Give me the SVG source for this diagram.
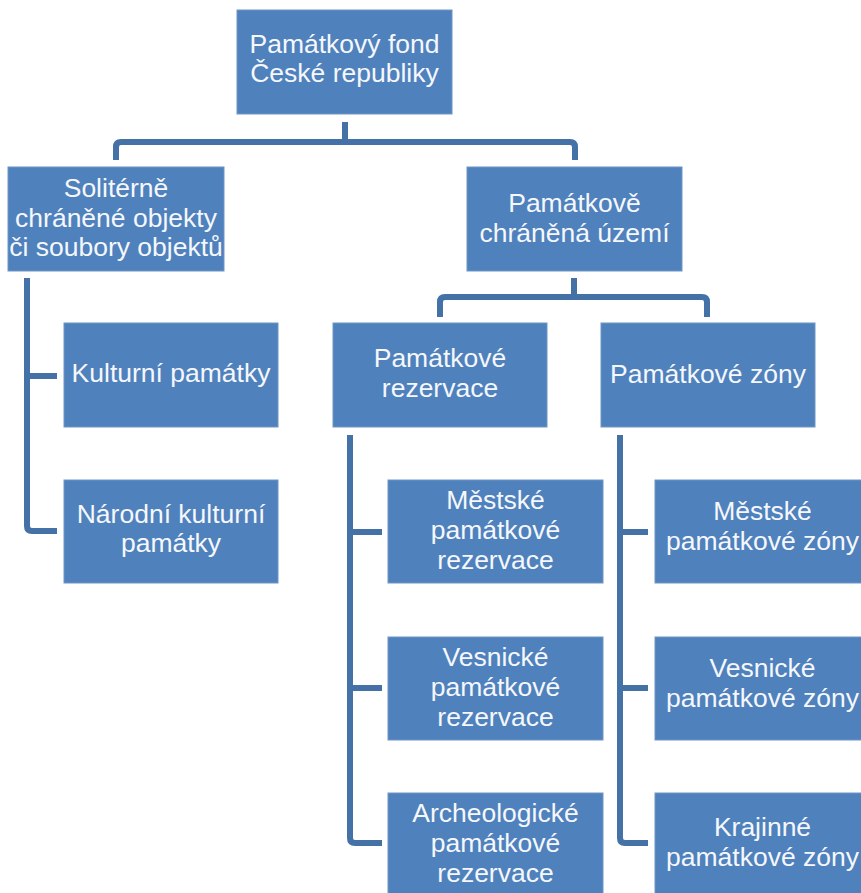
<svg xmlns="http://www.w3.org/2000/svg" width="861" height="893" viewBox="0 0 861 893">
<style>
.box{fill:#4f81bd;stroke:#6f95c6;stroke-width:1}
.t{font-family:"Liberation Sans",Arial,sans-serif;font-size:26.5px;fill:#f5f7fb;text-anchor:middle}
.c{fill:none;stroke:#4471a6;stroke-width:6;stroke-linejoin:round}
</style>
<rect width="861" height="893" fill="#ffffff"/>
<g id="connectors">
<path class="c" d="M345,122 V142 M116,160 V147 Q116,142 121,142 H570 Q575,142 575,147 V160"/>
<path class="c" d="M574,278 V297 M440,317 V302 Q440,297 445,297 H702 Q707,297 707,302 V317"/>
<path class="c" d="M27,278 V526 Q27,531 32,531 H57 M27,376 H57"/>
<path class="c" d="M350,435 V838 Q350,843 355,843 H382 M350,532 H382 M350,688 H382"/>
<path class="c" d="M620,435 V838 Q620,843 625,843 H648 M620,532 H648 M620,688 H648"/>
</g>
<g id="n-root"><rect class="box" x="237" y="10" width="215" height="104"/>
<text class="t" x="344.5" y="53">Památkový fond</text><text class="t" x="344.5" y="82">České republiky</text></g>
<g id="n-solitarni"><rect class="box" x="8" y="167" width="216" height="104"/>
<text class="t" x="116" y="197">Solitérně</text><text class="t" x="116" y="227">chráněné objekty</text><text class="t" x="116" y="256">či soubory objektů</text></g>
<g id="n-uzemi"><rect class="box" x="467" y="167" width="215" height="104"/>
<text class="t" x="574.5" y="212">Památkově</text><text class="t" x="574.5" y="242">chráněná území</text></g>
<g id="n-kulturni"><rect class="box" x="64" y="323" width="214" height="104"/>
<text class="t" x="171" y="382">Kulturní památky</text></g>
<g id="n-narodni"><rect class="box" x="64" y="480" width="214" height="103"/>
<text class="t" x="171" y="523">Národní kulturní</text><text class="t" x="171" y="552">památky</text></g>
<g id="n-rezervace"><rect class="box" x="333" y="323" width="214" height="104"/>
<text class="t" x="440" y="367">Památkové</text><text class="t" x="440" y="397">rezervace</text></g>
<g id="n-zony"><rect class="box" x="601" y="323" width="214" height="104"/>
<text class="t" x="708" y="383">Památkové zóny</text></g>
<g id="n-mpr"><rect class="box" x="388" y="480" width="215" height="103"/>
<text class="t" x="495.5" y="509">Městské</text><text class="t" x="495.5" y="539">památkové</text><text class="t" x="495.5" y="569">rezervace</text></g>
<g id="n-vpr"><rect class="box" x="388" y="637" width="215" height="103"/>
<text class="t" x="495.5" y="666">Vesnické</text><text class="t" x="495.5" y="696">památkové</text><text class="t" x="495.5" y="726">rezervace</text></g>
<g id="n-apr"><rect class="box" x="388" y="793" width="215" height="104"/>
<text class="t" x="495.5" y="822">Archeologické</text><text class="t" x="495.5" y="852">památkové</text><text class="t" x="495.5" y="882">rezervace</text></g>
<g id="n-mpz"><rect class="box" x="655" y="480" width="215" height="103"/>
<text class="t" x="762.5" y="520">Městské</text><text class="t" x="762.5" y="550">památkové zóny</text></g>
<g id="n-vpz"><rect class="box" x="655" y="637" width="215" height="103"/>
<text class="t" x="762.5" y="677">Vesnické</text><text class="t" x="762.5" y="707">památkové zóny</text></g>
<g id="n-kpz"><rect class="box" x="655" y="793" width="215" height="104"/>
<text class="t" x="762.5" y="836">Krajinné</text><text class="t" x="762.5" y="866">památkové zóny</text></g>
</svg>
